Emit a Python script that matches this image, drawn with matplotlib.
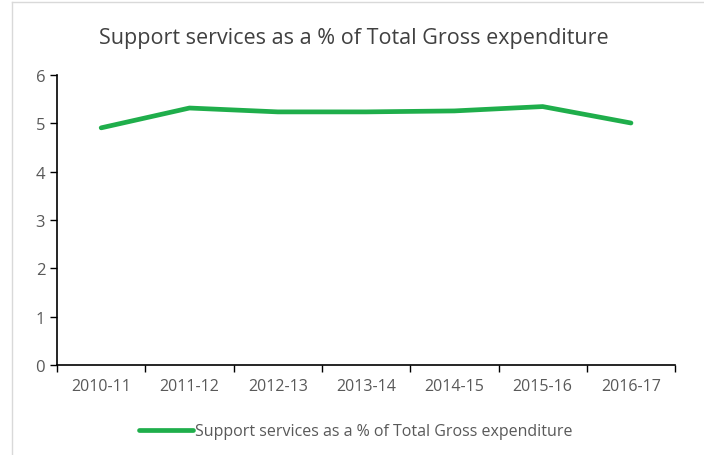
import numpy as np
import matplotlib.pyplot as plt
from matplotlib.lines import Line2D

years = ["2010-11", "2011-12", "2012-13", "2013-14", "2014-15", "2015-16", "2016-17"]
support_pct = [4.91, 5.32, 5.24, 5.24, 5.26, 5.35, 5.01]
label = "Support services as a % of Total Gross expenditure"

plt.rcParams['font.family'] = ['Open Sans', 'DejaVu Sans']

fig = plt.figure(figsize=(7.04, 4.56), dpi=100)
ax = fig.add_axes([0.081, 0.197, 0.878, 0.636])

x = np.arange(len(years))
ax.plot(x, support_pct, color='#1fae4b', lw=3.4, solid_capstyle='round', label=label)

ax.set_xlim(-0.5, len(years) - 0.5)
ax.set_ylim(0, 6)
ax.set_yticks(range(0, 7))
ax.set_xticks(x)
ax.set_xticklabels(years)
ax.set_xticks(np.arange(-0.5, len(years), 1), minor=True)
ax.tick_params(axis='x', which='major', length=0, pad=9, labelsize=11.5, labelcolor='#595959')
ax.tick_params(axis='x', which='minor', length=5, width=1, color='black')
ax.tick_params(axis='y', length=5, width=1, color='black', labelsize=12, labelcolor='#595959')

for s in ['top', 'right']:
    ax.spines[s].set_visible(False)
for s in ['left', 'bottom']:
    ax.spines[s].set_color('black')
    ax.spines[s].set_linewidth(1.2)

fig.text(0.502, 0.915, "Support services as a % of Total Gross expenditure",
         ha='center', va='center', fontsize=15.5, color='#404040')

leg = fig.legend(loc='center', bbox_to_anchor=(0.505, 0.052), frameon=False,
                 fontsize=11.5, handlelength=3.4, handletextpad=0.1)
for t in leg.get_texts():
    t.set_color('#595959')

# faint frame edges seen in the screenshot
fig.add_artist(Line2D([0.017, 1], [0.993, 0.993], color='#d9d9d9', lw=1))
fig.add_artist(Line2D([0.017, 0.017], [0, 0.993], color='#d9d9d9', lw=1))

fig.savefig("out.png", dpi=100)
